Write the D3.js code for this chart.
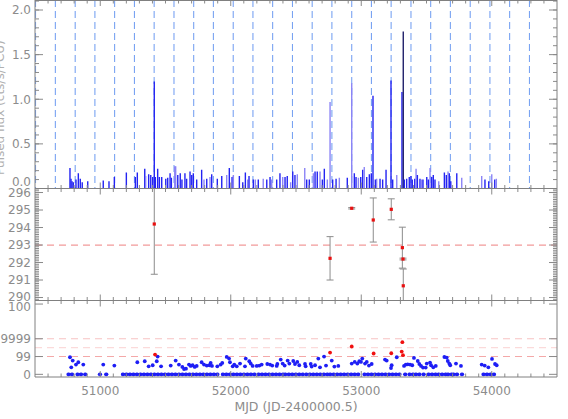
<!DOCTYPE html>
<html><head><meta charset="utf-8">
<script src="https://cdn.jsdelivr.net/npm/d3@7/dist/d3.min.js"></script>
<style>body{margin:0;background:#fff}svg{display:block}</style>
</head><body>
<script>
// ---------- DATA ----------
const mjdDomain = [50500, 54500];
const xTickValues = [51000, 52000, 53000, 54000];
const xTickLabels = ["51000", "52000", "53000", "54000"];
const xAxisTitle = "MJD (JD-2400000.5)";
const yTopTitle = "Pulsed flux (cts/s/PCU)";
const yTopTicks = [0, 0.5, 1.0, 1.5, 2.0];
const yTopLabels = ["0.0", "0.5", "1.0", "1.5", "2.0"];
const yMidTicks = [290, 291, 292, 293, 294, 295, 296];
const yMidLabels = ["290", "291", "292", "293", "294", "295", "296"];
const yMidRef = 293;
const yBotTickLevels = [0, 2, 4, 7.9];
const yBotTickLabels = ["0", "99", "9999", "100"];
const yBotRefLevels = [2, 3, 4];

// orbital-phase reference epochs (dashed lines, top panel)
const epochs = [50504, 50656, 50808, 50959, 51110, 51262, 51413, 51565, 51716, 51867,
  52019, 52170, 52321, 52473, 52624, 52775, 52927, 53078, 53229, 53381, 53532,
  53683, 53835, 53986, 54137, 54289];

// top panel: [MJD, flux, kind]  kind: b = blue, l = light, k = dark
const fluxBars = [
 [50768,0.23,"b"],[50776,0.11,"b"],[50784,0.08,"b"],[50794,0.07,"b"],[50814,0.10,"b"],[50832,0.17,"b"],
 [50847,0.11,"b"],[50862,0.07,"b"],[50904,0.08,"b"],[51023,0.09,"b"],[51067,0.08,"b"],[51108,0.13,"b"],
 [51200,0.18,"b"],[51269,0.13,"b"],[51284,0.18,"b"],[51341,0.22,"b"],[51348,0.14,"l"],[51371,0.16,"b"],
 [51387,0.15,"b"],[51402,0.13,"b"],[51414,1.20,"b"],[51422,0.13,"b"],[51440,0.22,"b"],[51453,0.13,"b"],
 [51471,0.13,"b"],[51502,0.11,"b"],[51517,0.12,"b"],[51535,0.17,"b"],[51545,0.12,"b"],[51571,0.25,"l"],
 [51578,0.25,"l"],[51594,0.15,"b"],[51613,0.17,"b"],[51626,0.10,"b"],[51649,0.17,"b"],[51662,0.11,"b"],
 [51688,0.19,"b"],[51701,0.15,"b"],[51713,0.17,"b"],[51739,0.10,"b"],
 [51777,0.21,"b"],[51795,0.10,"l"],[51816,0.11,"b"],[51841,0.13,"l"],[51854,0.16,"b"],[51897,0.11,"b"],
 [51931,0.14,"b"],[51969,0.15,"l"],[51989,0.23,"b"],[52010,0.13,"b"],[52020,0.15,"l"],[52066,0.14,"b"],
 [52092,0.07,"b"],[52112,0.18,"b"],[52130,0.10,"l"],[52140,0.14,"b"],[52173,0.10,"b"],[52188,0.10,"l"],
 [52211,0.10,"b"],[52249,0.11,"l"],[52276,0.10,"b"],[52301,0.13,"b"],[52314,0.10,"l"],[52352,0.10,"b"],
 [52377,0.17,"b"],[52398,0.13,"l"],[52416,0.13,"b"],[52433,0.14,"b"],[52459,0.07,"l"],[52475,0.19,"b"],
 [52492,0.15,"b"],[52510,0.16,"l"],[52567,0.23,"l"],[52582,0.10,"b"],[52602,0.10,"b"],[52633,0.17,"l"],
 [52646,0.19,"b"],[52663,0.19,"b"],[52684,0.19,"l"],[52702,0.10,"b"],[52717,0.22,"b"],[52740,0.10,"l"],
 [52761,0.97,"l"],[52781,0.10,"b"],[52807,0.11,"b"],[52832,0.12,"l"],[52893,0.12,"b"],[52927,1.18,"l"],
 [52947,0.17,"b"],[52960,0.13,"b"],[52978,0.12,"l"],[52996,0.13,"b"],[53011,0.21,"b"],[53023,0.24,"l"],
 [53042,0.13,"b"],[53062,0.16,"b"],[53077,0.17,"b"],[53090,1.04,"b"],[53108,0.10,"b"],[53118,0.11,"l"],
 [53144,0.11,"b"],[53164,0.10,"b"],[53190,0.21,"b"],[53228,1.21,"b"],[53241,0.10,"b"],[53272,0.15,"l"],
 [53312,1.08,"b"],[53322,1.76,"k"],[53330,0.10,"b"],[53348,0.11,"b"],[53368,0.13,"b"],[53381,0.14,"b"],
 [53391,0.10,"b"],[53410,0.11,"b"],[53420,0.22,"l"],[53430,0.15,"b"],[53450,0.11,"b"],[53463,0.10,"l"],
 [53473,0.10,"b"],[53502,0.13,"b"],[53514,0.10,"b"],[53527,0.23,"l"],[53540,0.13,"b"],[53552,0.15,"b"],
 [53565,0.10,"b"],[53594,0.08,"l"],[53637,0.18,"b"],[53652,0.15,"b"],[53665,0.19,"l"],[53675,0.17,"b"],
 [53686,0.08,"b"],[53732,0.17,"b"],[53770,0.12,"l"],[53923,0.14,"l"],[53948,0.10,"b"],[53977,0.08,"b"],
 [54000,0.16,"l"],[54023,0.10,"b"],[54035,0.11,"l"]
];

// middle panel: [MJD, value, error]
const midPoints = [
 [51414,294.20,2.87],[52761,292.24,1.24],[52927,295.10,0.04],[53092,294.43,1.26],
 [53230,295.04,0.60],[53315,292.85,1.17],[53320,292.20,0.05],[53322,290.67,0.96]
];

// bottom panel: runs of zero-level observations [startMJD, endMJD]
const zeroRuns = [
 [50755,50806],[50824,50865],[50883,50908],[50996,51001],[51044,51069],[51172,51688],
 [51708,51918],[51938,52199],[52211,52403],[52416,52556],[52577,52748],[52760,52990],
 [53023,53310],[53335,53361],[53368,53399],[53417,53450],[53476,53502],[53514,53578],
 [53591,53655],[53663,53693],[53705,53756],[53770,53795],[53935,54038]
];
// bottom panel: non-zero levels [MJD, level]
const blueLevels = [
 [50768,1.92],[50778,0.79],[50789,1.55],[50814,1.10],[50832,1.36],[50870,1.10],[51023,1.10],[51108,0.98],
 [51284,1.36],[51341,1.47],[51371,0.90],[51402,1.02],[51433,1.47],[51440,2.00],[51466,0.90],[51540,0.98],
 [51578,1.55],[51603,1.10],[51629,0.83],[51642,0.60],[51657,0.64],[51680,1.10],[51693,0.94],[51708,1.02],
 [51724,0.83],[51739,0.94],[51777,1.36],[51795,1.10],[51816,0.98],[51836,1.02],[51846,1.28],[51856,0.94],
 [51897,0.90],[51923,1.10],[51935,1.28],[51969,1.96],[51987,1.77],[51994,1.36],[52015,0.90],[52027,1.10],
 [52046,0.90],[52071,1.21],[52109,0.90],[52115,1.77],[52142,1.47],
 [52153,1.21],[52168,0.94],[52199,0.94],[52219,0.98],[52237,1.10],[52280,1.16],[52301,1.10],[52318,0.98],
 [52352,0.94],[52357,1.16],[52383,1.66],[52398,1.21],[52413,0.98],[52436,1.55],[52449,1.21],[52479,1.50],
 [52492,1.16],[52510,1.39],[52525,1.02],[52569,1.16],[52574,0.90],[52613,1.16],[52620,0.87],[52646,1.02],
 [52671,1.77],[52684,0.79],[52715,2.00],[52730,0.98],[52774,1.55],[52794,0.87],[52824,0.94],[52927,1.21],
 [52950,1.39],[52970,1.21],[52985,1.47],[52998,1.39],[53008,1.77],[53029,1.21],[53042,1.39],[53059,0.98],
 [53080,1.16],[53182,1.66],[53195,1.55],[53228,0.71],[53233,1.02],[53272,1.92],[53328,0.94],[53341,1.10],
 [53356,1.13],[53374,1.10],[53391,1.02],[53404,1.84],[53433,1.50],[53445,1.16],[53458,0.94],[53473,0.76],
 [53494,0.76],[53502,1.21],[53527,1.32],[53535,1.02],[53552,0.79],[53571,0.94],[53637,1.95],[53655,1.88],
 [53663,1.50],[53675,1.21],[53682,1.02],[53726,1.21],[53764,0.94],[53923,1.10],[53946,0.98],[53974,0.79],
 [54002,1.73],[54025,1.16],[54038,1.02]
];
const redLevels = [
 [51420,2.22],[52761,2.45],[52927,3.13],[53095,2.34],[53230,2.37],[53310,2.56],[53315,3.62],[53320,2.15]
];

// ---------- LAYOUT ----------
const W = 568, H = 419;
const L = 35, R = 557;
const P = { top: [0, 188.5], mid: [188.5, 300.5], bot: [300.5, 377] };
const axisCol = "#808080", tickCol = "#8a8a8a", textCol = "#8c8c8c";
const font = "DejaVu Sans, Liberation Sans, sans-serif";
const barCol = { b: "#2323f2", l: "#8b84f6", k: "#20206a" };

const svg = d3.select("body").append("svg").attr("width", W).attr("height", H);

const x = d3.scaleLinear().domain(mjdDomain).range([L, R]);
const yTop = d3.scaleLinear().domain([0, 2]).range([188.5, 10]);
const yMid = d3.scaleLinear().domain([289.83, 296.23]).range([300.5, 188.5]);
const yBot = d3.scaleLinear().domain([-0.3, 8.3]).range([377, 300.5]);

const defs = svg.append("defs");
Object.entries(P).forEach(([k, [a, b]]) => {
  defs.append("clipPath").attr("id", "clip-" + k)
    .append("rect").attr("x", L).attr("y", a).attr("width", R - L).attr("height", b - a);
});

// ---------- TOP PANEL ----------
const gTop = svg.append("g").attr("clip-path", "url(#clip-top)");
gTop.selectAll("line.ep").data(epochs).join("line")
  .attr("x1", d => x(d)).attr("x2", d => x(d))
  .attr("y1", P.top[0]).attr("y2", P.top[1])
  .attr("stroke", "#79a3f2").attr("stroke-width", 1.1).attr("stroke-dasharray", "7,4");
gTop.selectAll("line.bar").data(fluxBars).join("line")
  .attr("x1", d => x(d[0])).attr("x2", d => x(d[0]))
  .attr("y1", yTop(0)).attr("y2", d => yTop(d[1]))
  .attr("stroke", d => barCol[d[2]]).attr("stroke-width", 1.4);

// ---------- MIDDLE PANEL ----------
const gMid = svg.append("g").attr("clip-path", "url(#clip-mid)");
gMid.append("line").attr("x1", L).attr("x2", R).attr("y1", yMid(yMidRef)).attr("y2", yMid(yMidRef))
  .attr("stroke", "#f29a9a").attr("stroke-width", 1.2).attr("stroke-dasharray", "7,5");
const eb = gMid.selectAll("g.eb").data(midPoints).join("g");
eb.append("line").attr("x1", d => x(d[0])).attr("x2", d => x(d[0]))
  .attr("y1", d => yMid(d[1] - d[2])).attr("y2", d => yMid(d[1] + d[2]))
  .attr("stroke", "#8c8c8c").attr("stroke-width", 1);
[-1, 1].forEach(s => {
  eb.append("line").attr("x1", d => x(d[0]) - 3.5).attr("x2", d => x(d[0]) + 3.5)
    .attr("y1", d => yMid(d[1] + s * d[2])).attr("y2", d => yMid(d[1] + s * d[2]))
    .attr("stroke", "#8c8c8c").attr("stroke-width", 1);
});
eb.append("rect").attr("x", d => x(d[0]) - 1.6).attr("y", d => yMid(d[1]) - 1.6)
  .attr("width", 3.2).attr("height", 3.2).attr("fill", "#e81010");

// ---------- BOTTOM PANEL ----------
const gBot = svg.append("g").attr("clip-path", "url(#clip-bot)");
const refCols = ["#f4a8a8", "#fbdada", "#f7c2c2"];
gBot.selectAll("line.ref").data(yBotRefLevels).join("line")
  .attr("x1", L).attr("x2", R).attr("y1", d => yBot(d)).attr("y2", d => yBot(d))
  .attr("stroke", (d, i) => refCols[i]).attr("stroke-width", 1.1).attr("stroke-dasharray", "7,5");
gBot.selectAll("line.run").data(zeroRuns).join("line")
  .attr("x1", d => x(d[0])).attr("x2", d => x(d[1]))
  .attr("y1", yBot(0)).attr("y2", yBot(0))
  .attr("stroke", "#1e1ef5").attr("stroke-width", 3.8).attr("stroke-linecap", "round")
  .attr("stroke-dasharray", "0.5,3");
gBot.selectAll("circle.bl").data(blueLevels).join("circle")
  .attr("cx", d => x(d[0])).attr("cy", d => yBot(d[1])).attr("r", 1.9).attr("fill", "#1e1ef5");
gBot.selectAll("circle.rd").data(redLevels).join("circle")
  .attr("cx", d => x(d[0])).attr("cy", d => yBot(d[1])).attr("r", 1.9).attr("fill", "#f01010");

// ---------- AXES / FRAMES ----------
const gAx = svg.append("g");
function tick(x1, y1, x2, y2) {
  gAx.append("line").attr("x1", x1).attr("y1", y1).attr("x2", x2).attr("y2", y2)
    .attr("stroke", tickCol).attr("stroke-width", 1);
}
const xMinor = d3.range(50600, 54500, 100);
Object.values(P).forEach(([a, b]) => {
  xMinor.forEach(v => {
    const len = v % 1000 === 0 ? 6 : 3.5;
    tick(x(v), b, x(v), b - len);
    tick(x(v), a, x(v), a + len);
  });
});
function yTicks(scale, minorVals, majorVals) {
  minorVals.forEach(v => { const y = scale(v); tick(L, y, L + 4, y); tick(R, y, R - 4, y); });
  majorVals.forEach(v => { const y = scale(v); tick(L, y, L + 8, y); tick(R, y, R - 8, y); });
}
yTicks(yTop, d3.range(0, 2.11, 0.1), yTopTicks);
yTicks(yMid, d3.range(289.9, 296.25, 0.1), yMidTicks);
yTicks(yBot, [], yBotTickLevels);

// frame
gAx.append("line").attr("x1", L).attr("x2", L).attr("y1", 0).attr("y2", P.bot[1]).attr("stroke", axisCol);
gAx.append("line").attr("x1", R).attr("x2", R).attr("y1", 0).attr("y2", P.bot[1]).attr("stroke", axisCol);
[0.5, P.top[1], P.mid[1], P.bot[1]].forEach(y => {
  gAx.append("line").attr("x1", L).attr("x2", R).attr("y1", y).attr("y2", y).attr("stroke", axisCol);
});

// labels
const gT = svg.append("g").attr("font-family", font).attr("font-size", 12).attr("fill", textCol);
yTopTicks.forEach((v, i) => {
  gT.append("text").attr("x", 31).attr("y", yTop(v) + (v === 0 ? -6.5 : 0)).attr("dy", "0.36em")
    .attr("text-anchor", "end").text(yTopLabels[i]);
});
yMidTicks.forEach((v, i) => {
  const off = v === 296 ? 0.5 : v === 290 ? -1 : 0;
  gT.append("text").attr("x", 31).attr("y", yMid(v) + off).attr("dy", "0.36em")
    .attr("text-anchor", "end").text(yMidLabels[i]);
});
yBotTickLevels.forEach((v, i) => {
  gT.append("text").attr("x", 31).attr("y", yBot(v) + (i === 3 ? 2.5 : 0)).attr("dy", "0.36em")
    .attr("text-anchor", "end").text(yBotTickLabels[i]);
});
xTickValues.forEach((v, i) => {
  gT.append("text").attr("x", x(v)).attr("y", 394.5).attr("text-anchor", "middle").text(xTickLabels[i]);
});
gT.append("text").attr("x", 296).attr("y", 411).attr("text-anchor", "middle")
  .attr("font-size", 12.5).text(xAxisTitle);
gT.append("text").attr("transform", "translate(3.5,175) rotate(-90)").attr("text-anchor", "start")
  .attr("fill", "#b0b0b0").text(yTopTitle);
</script>
</body></html>
